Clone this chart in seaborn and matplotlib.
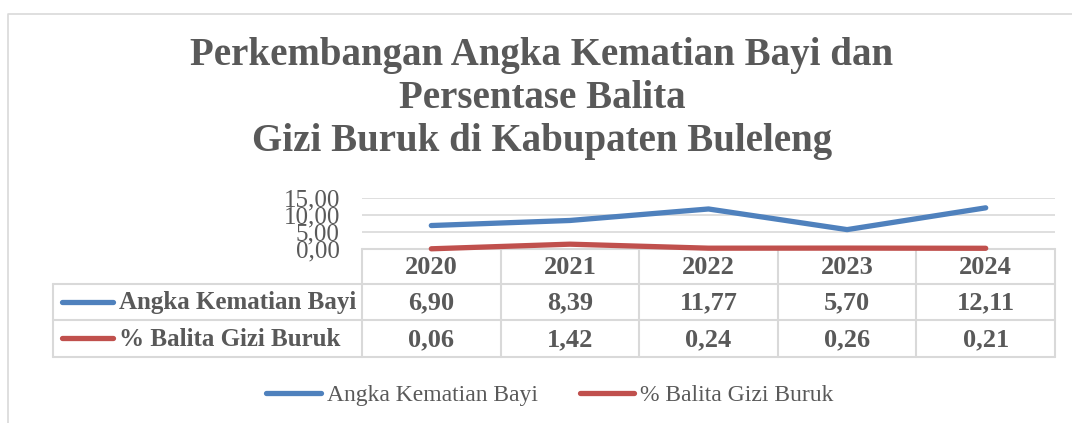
import matplotlib
matplotlib.use("Agg")
import matplotlib.pyplot as plt
from matplotlib.lines import Line2D
import pandas as pd
import seaborn as sns

years = ["2020", "2021", "2022", "2023", "2024"]
akb = [6.90, 8.39, 11.77, 5.70, 12.11]
gizi_buruk = [0.06, 1.42, 0.24, 0.26, 0.21]
series_names = ["Angka Kematian Bayi", "% Balita Gizi Buruk"]
y_ticks = [0, 5, 10, 15]
title_lines = [
    "Perkembangan Angka Kematian Bayi dan",
    "Persentase Balita",
    "Gizi Buruk di Kabupaten Buleleng",
]

COLORS = ["#4f81bd", "#c0504d"]
TEXT = "#595959"
GRID = "#d9d9d9"
W, H = 1072, 423


def fmt(v):
    return f"{v:.2f}".replace(".", ",")


sns.set_theme(style="white")
plt.rcParams["font.family"] = ["Liberation Serif", "DejaVu Serif"]

fig = plt.figure(figsize=(W / 100, H / 100), dpi=100)
fig.patch.set_facecolor("white")

# pixel-space overlay for frame, title and data table
over = fig.add_axes([0, 0, 1, 1])
over.set_xlim(0, W)
over.set_ylim(H, 0)
over.axis("off")
over.plot([8, 8, W + 5], [H + 5, 14, 14], color=GRID, lw=1.2)

for y, line in zip([55, 99, 142], title_lines):
    over.text(542, y, line, ha="center", va="center", fontsize=28,
              fontweight="bold", color=TEXT)

# line chart area
left, right, top, bottom = 362, 1055, 198, 249
ax = fig.add_axes([left / W, 1 - bottom / H, (right - left) / W, (bottom - top) / H])
df = pd.DataFrame({
    "pos": list(range(len(years))) * 2,
    "value": akb + gizi_buruk,
    "series": [series_names[0]] * len(years) + [series_names[1]] * len(years),
})
sns.lineplot(data=df, x="pos", y="value", hue="series", hue_order=series_names,
             palette=COLORS, linewidth=3.8, legend=False, ax=ax,
             solid_capstyle="round", clip_on=False)
ax.set_xlim(-0.5, len(years) - 0.5)
ax.set_ylim(0, 15)
ax.set_xticks([])
ax.set_yticks(y_ticks)
ax.set_yticklabels([fmt(v) for v in y_ticks], fontsize=18, color=TEXT)
ax.tick_params(axis="y", length=0, pad=16)
ax.set_xlabel("")
ax.set_ylabel("")
ax.grid(axis="y", color=GRID, lw=1.2)
ax.set_facecolor("none")
for s in ax.spines.values():
    s.set_visible(False)

# data table
col_w = (right - left) / len(years)
rows = [249, 284, 320, 357]
tbl_left = 53
over.plot([left, right], [rows[0], rows[0]], color=GRID, lw=1.5)
for y in rows[1:]:
    over.plot([tbl_left, right], [y, y], color=GRID, lw=1.5)
over.plot([tbl_left, tbl_left], [rows[1], rows[3]], color=GRID, lw=1.5)
for i in range(len(years) + 1):
    x = left + i * col_w
    over.plot([x, x], [rows[0], rows[3]], color=GRID, lw=1.5)

for i, yr in enumerate(years):
    cx = left + (i + 0.5) * col_w
    over.text(cx, (rows[0] + rows[1]) / 2 + 1, yr, ha="center", va="center",
              fontsize=19, fontweight="bold", color=TEXT)
for r, (name, vals, c) in enumerate(zip(series_names, [akb, gizi_buruk], COLORS)):
    cy = (rows[r + 1] + rows[r + 2]) / 2
    over.plot([62, 113], [cy, cy], color=c, lw=3.8, solid_capstyle="round")
    over.text(119, cy + 1, name, ha="left", va="center", fontsize=18,
              fontweight="bold", color=TEXT)
    for i, v in enumerate(vals):
        cx = left + (i + 0.5) * col_w
        over.text(cx, cy + 1, fmt(v), ha="center", va="center", fontsize=19,
                  fontweight="bold", color=TEXT)

handles = [Line2D([], [], color=c, lw=3.8, solid_capstyle="round") for c in COLORS]
fig.legend(handles, series_names, loc="center", bbox_to_anchor=(550 / W, 1 - 395 / H),
           ncol=2, frameon=False, fontsize=17, handlelength=2.3, handletextpad=0.25,
           columnspacing=1.8, labelcolor=TEXT)

fig.savefig("out.png", dpi=100)
plt.close(fig)
